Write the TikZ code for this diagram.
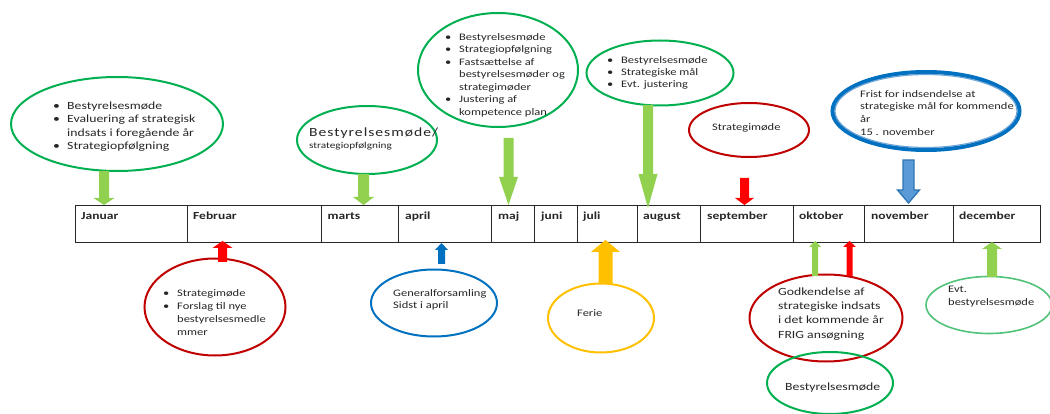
\documentclass[tikz,border=0pt]{standalone}
\usepackage{fontspec}
\setmainfont{Carlito}[FakeStretch=1.25]
\usetikzlibrary{shapes.geometric}
\definecolor{grn}{RGB}{0,176,80}
\definecolor{lgrn}{RGB}{146,208,80}
\definecolor{dgrn}{RGB}{80,195,120}
\definecolor{dred}{RGB}{192,0,0}
\definecolor{ared}{RGB}{255,0,0}
\definecolor{blu}{RGB}{0,112,192}
\definecolor{lblu}{RGB}{110,165,215}
\definecolor{afill}{RGB}{91,155,213}
\definecolor{astroke}{RGB}{46,117,182}
\definecolor{yel}{RGB}{255,192,0}
\definecolor{tcol}{RGB}{38,38,38}
\definecolor{lcol}{RGB}{40,40,40}
\newcommand\bul{\makebox[14pt][l]{\textbullet}}
\newcommand\indt{\hspace*{14pt}}
\newcommand\fA{\fontsize{11}{13.5}\selectfont}
\newcommand\fB{\fontsize{10}{12.5}\selectfont}
\newcommand\arrdown[7]{\fill[#1] (#2-#5,#3) -- (#2+#5,#3) -- (#2+#5,#4-#7) -- (#2+#6,#4-#7) -- (#2,#4) -- (#2-#6,#4-#7) -- (#2-#5,#4-#7) -- cycle;}
\newcommand\arrup[7]{\fill[#1] (#2-#5,#3) -- (#2+#5,#3) -- (#2+#5,#4+#7) -- (#2+#6,#4+#7) -- (#2,#4) -- (#2-#6,#4+#7) -- (#2-#5,#4+#7) -- cycle;}
\tikzset{
  ell/.style={ellipse, inner sep=0pt, line width=2pt},
  txt/.style={inner sep=0pt, anchor=north west, align=left, text=tcol},
  cell/.style={draw=lcol, line width=1.3pt, anchor=north west, minimum height=37pt, inner sep=0pt},
  mlab/.style={inner sep=0pt, anchor=north west, text=tcol, font=\fontsize{10.8}{12}\selectfont\bfseries},
}
\begin{document}
\begin{tikzpicture}[x=1pt,y=-1pt]
\useasboundingbox (0,0) rectangle (1050,414);
% ellipses above
\node[ell, draw=grn, minimum width=212pt, minimum height=94pt] (e1) at (117,124) {};
\node[ell, draw=grn, minimum width=140pt, minimum height=68pt] (e2) at (367,140) {};
\node[ell, draw=grn, minimum width=160pt, minimum height=114pt] (e3) at (498,70) {};
\node[ell, draw=grn, minimum width=147pt, minimum height=65pt] (e4) at (660,73) {};
\node[ell, draw=dred, minimum width=120pt, minimum height=54pt] (e5) at (749,130) {};
\node[ell, draw=blu, line width=4pt, minimum width=187pt, minimum height=78pt] (e6) at (926,111) {};
\node[ell, draw=lblu, line width=1.2pt, minimum width=182pt, minimum height=73pt] (e6i) at (926,111) {};
% ellipses below
\node[ell, draw=dred, minimum width=141pt, minimum height=97pt] (e7) at (215,307) {};
\node[ell, draw=blu, minimum width=126pt, minimum height=67pt] (e8) at (434,303) {};
\node[ell, draw=yel, minimum width=106pt, minimum height=69pt] (e9) at (601,318) {};
\node[ell, draw=dred, minimum width=153pt, minimum height=87pt] (e10) at (826,318) {};
\node[ell, draw=grn, minimum width=126pt, minimum height=62pt] (e11) at (830,383) {};
\node[ell, draw=dgrn, line width=1.6pt, minimum width=126pt, minimum height=57pt] (e12) at (989,305) {};
% texts
\node[txt, font=\fA] (t1) at (53,101.5) {\bul Bestyrelsesmøde\\ \bul Evaluering af strategisk\\ \indt indsats i foregående år\\ \bul Strategiopfølgning};
\node[txt, font=\fontsize{12.5}{15}\selectfont\addfontfeature{LetterSpace=8}] (t2a) at (309,128) {Bestyrelsesmøde/};
\node[txt, font=\fontsize{9}{11}\selectfont] (t2b) at (309,142.5) {strategiopfølgning};
\node[txt, font=\fB] (t3) at (445,33) {\bul Bestyrelsesmøde\\ \bul Strategiopfølgning\\ \bul Fastsættelse af\\ \indt bestyrelsesmøder og\\ \indt strategimøder\\ \bul Justering af\\ \indt kompetence plan};
\node[txt, font=\fontsize{10}{12}\selectfont] (t4) at (607,56) {\bul Bestyrelsesmøde\\ \bul Strategiske mål\\ \bul Evt. justering};
\node[txt, font=\fB] (t5) at (712,123) {Strategimøde};
\node[txt, font=\fontsize{10}{12.7}\selectfont] (t6) at (860,90) {Frist for indsendelse at\\ strategiske mål for kommende\\ år\\ 15 . november};
\node[txt, font=\fontsize{10}{13}\selectfont] (t7) at (163,289) {\bul Strategimøde\\ \bul Forslag til nye\\ \indt bestyrelsesmedle\\ \indt mmer};
\node[txt, font=\fontsize{10}{12}\selectfont] (t8) at (393,289) {Generalforsamling\\ Sidst i april};
\node[txt, font=\fB] (t9) at (577,309) {Ferie};
\node[txt, font=\fontsize{11}{14.3}\selectfont] (t10) at (778,287.5) {Godkendelse af\\ strategiske indsats\\ i det kommende år\\ FRIG ansøgning};
\node[txt, font=\fA] (t11) at (785,382.5) {Bestyrelsesmøde};
\node[txt, font=\fontsize{10}{13}\selectfont] (t12) at (948,286) {Evt.\\ bestyrelsesmøde};
% timeline
\node[cell, minimum width=112pt] (c1) at (75,205) {};
\node[cell, minimum width=134pt] (c2) at (187,205) {};
\node[cell, minimum width=77pt] (c3) at (321,205) {};
\node[cell, minimum width=93pt] (c4) at (398,205) {};
\node[cell, minimum width=43pt] (c5) at (491,205) {};
\node[cell, minimum width=43pt] (c6) at (534,205) {};
\node[cell, minimum width=60pt] (c7) at (577,205) {};
\node[cell, minimum width=63pt] (c8) at (637,205) {};
\node[cell, minimum width=93pt] (c9) at (700,205) {};
\node[cell, minimum width=71pt] (c10) at (793,205) {};
\node[cell, minimum width=89pt] (c11) at (864,205) {};
\node[cell, minimum width=87pt] (c12) at (953,205) {};
\node[mlab] (l1) at ([shift={(6pt,-7pt)}]c1.north west) {Januar};
\node[mlab] (l2) at ([shift={(6pt,-7pt)}]c2.north west) {Februar};
\node[mlab] (l3) at ([shift={(6.5pt,-7pt)}]c3.north west) {marts};
\node[mlab] (l4) at ([shift={(7pt,-7pt)}]c4.north west) {april};
\node[mlab] (l5) at ([shift={(7pt,-7pt)}]c5.north west) {maj};
\node[mlab] (l6) at ([shift={(7pt,-7pt)}]c6.north west) {juni};
\node[mlab] (l7) at ([shift={(6pt,-7pt)}]c7.north west) {juli};
\node[mlab] (l8) at ([shift={(6pt,-7pt)}]c8.north west) {august};
\node[mlab] (l9) at ([shift={(7pt,-7pt)}]c9.north west) {september};
\node[mlab] (l10) at ([shift={(6pt,-7pt)}]c10.north west) {oktober};
\node[mlab] (l11) at ([shift={(7pt,-7pt)}]c11.north west) {november};
\node[mlab] (l12) at ([shift={(6pt,-7pt)}]c12.north west) {december};
% arrows down
\arrdown{lgrn}{104}{171}{205}{5}{10.5}{7}
\arrdown{lgrn}{363.5}{174}{205}{5.5}{10.5}{8}
\arrdown{lgrn}{508.5}{138}{205}{5}{9.5}{28}
\arrdown{lgrn}{648}{105}{208}{5}{9.5}{34}
\arrdown{ared}{744.5}{178}{205}{4.5}{9.5}{7}
\arrdown{fill=afill, draw=astroke, line width=1.3pt}{908.5}{160}{203}{5.5}{11}{13}
% arrows up
\arrup{ared}{222.5}{262}{241}{4.5}{10}{7}
\arrup{blu}{441.5}{264}{243}{3.5}{6.5}{7}
\arrup{yel}{605.5}{284}{240}{7}{14.5}{12}
\arrup{lgrn}{815}{276}{241}{3}{6}{6}
\arrup{ared}{849.5}{276}{241}{3}{6.5}{6}
\arrup{lgrn}{992}{277}{242}{5}{10}{7}
\end{tikzpicture}
\end{document}
